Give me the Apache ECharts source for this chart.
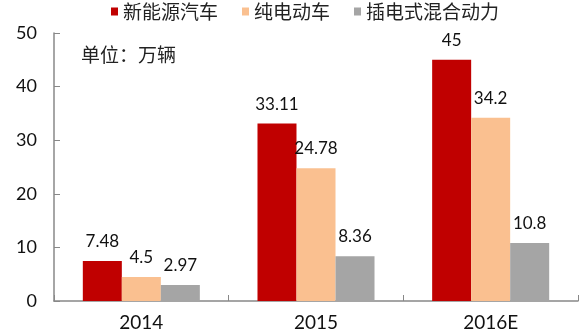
<!DOCTYPE html>
<html><head><meta charset="utf-8">
<script src="https://cdn.jsdelivr.net/npm/echarts@6/dist/echarts.min.js"></script>
<style>html,body{margin:0;padding:0;background:#fff}#c{width:587px;height:334px}</style>
</head><body><div id="c"></div>
<script>
var categories = ['2014', '2015', '2016E'];
var seriesNames = ['新能源汽车', '纯电动车', '插电式混合动力'];
var nev = [7.48, 33.11, 45];
var bev = [4.5, 24.78, 34.2];
var phev = [2.97, 8.36, 10.8];
var yTicks = [0, 10, 20, 30, 40, 50];
var colors = ['#C00000', '#FAC090', '#A5A5A5'];
var FONT = "Lato, 'Noto Sans CJK SC', sans-serif";

var chart = echarts.init(document.getElementById('c'));
function mk(name, data, color) {
  return {
    name: name, type: 'bar', data: data, barGap: '0%', barCategoryGap: '33%',
    itemStyle: { color: color },
    label: { show: true, position: 'top', distance: 11, color: '#111', fontSize: 17, fontFamily: FONT }
  };
}
chart.setOption({
  animation: false,
  textStyle: { fontFamily: FONT },
  legend: {
    top: 2, left: 111, padding: 0, itemWidth: 7, itemHeight: 8, itemGap: 24, icon: 'rect',
    textStyle: { fontSize: 19, color: '#222', fontFamily: "'Noto Sans CJK SC', sans-serif" },
    data: seriesNames
  },
  graphic: [{ type: 'text', left: 81, top: 45, style: { text: '单位：万辆', fill: '#222', font: "19px 'Noto Sans CJK SC'" } }],
  grid: { left: 54, right: 9, top: 33, bottom: 33 },
  xAxis: {
    type: 'category', data: categories,
    axisLine: { lineStyle: { color: '#888', width: 1.5 } },
    axisTick: { show: true, inside: true, length: 6, lineStyle: { color: '#888' } },
    axisLabel: { fontSize: 19, color: '#111', margin: 12, fontFamily: FONT }
  },
  yAxis: {
    type: 'value', min: yTicks[0], max: yTicks[yTicks.length - 1], interval: 10,
    axisLine: { show: true, lineStyle: { color: '#888', width: 1.5 } },
    axisTick: { show: true, inside: true, length: 6, lineStyle: { color: '#888' } },
    splitLine: { show: false },
    axisLabel: { fontSize: 18, color: '#111', margin: 17, fontFamily: FONT }
  },
  series: [mk(seriesNames[0], nev, colors[0]), mk(seriesNames[1], bev, colors[1]), mk(seriesNames[2], phev, colors[2])]
});
</script></body></html>
